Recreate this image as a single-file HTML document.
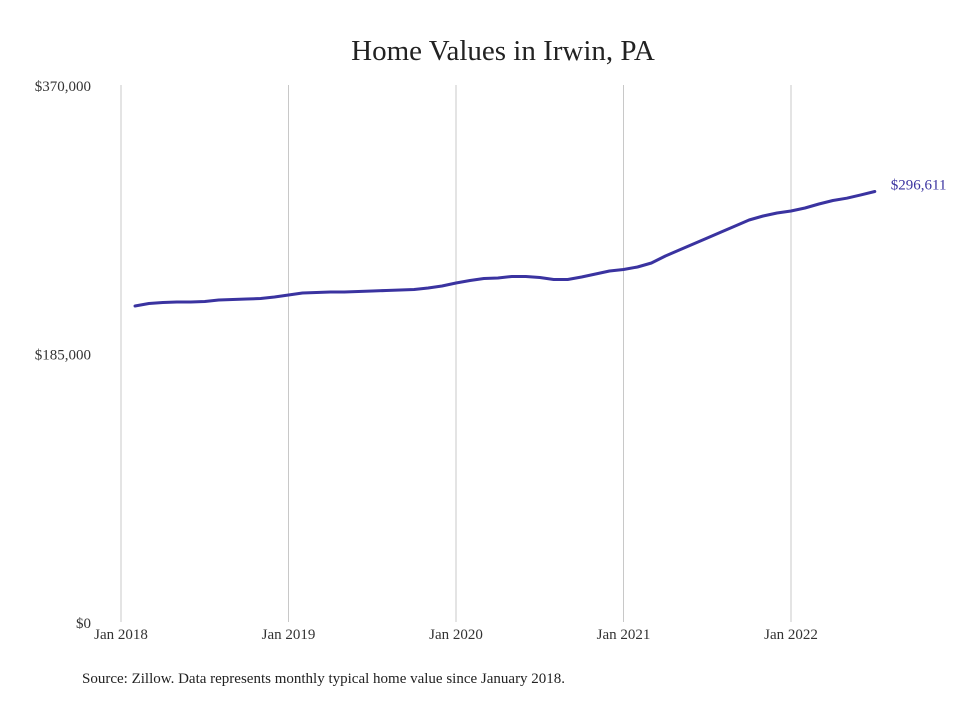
<!DOCTYPE html>
<html><head><meta charset="utf-8">
<style>
html,body{margin:0;padding:0;background:#fff;}
body{width:980px;height:699px;overflow:hidden;font-family:"Liberation Serif",serif;}
</style></head>
<body>
<svg id="chart" width="980" height="699" xmlns="http://www.w3.org/2000/svg">
<text x="503" y="60" text-anchor="middle" font-family="Liberation Serif, serif" font-size="29" fill="#222">Home Values in Irwin, PA</text>
<g id="grid"></g>
<g id="yaxis"></g>
<g id="xaxis"></g>
<g id="series"></g>
<text x="82" y="683" font-family="Liberation Serif, serif" font-size="15" fill="#222">Source: Zillow. Data represents monthly typical home value since January 2018.</text>
</svg>
<script>
const yTicks = [0, 185000, 370000];
const yTickLabels = ["$0", "$185,000", "$370,000"];
const xTickMonths = [0, 12, 24, 36, 48];
const xTickLabels = ["Jan 2018", "Jan 2019", "Jan 2020", "Jan 2021", "Jan 2022"];
const startMonth = 1;
const values = [217724,219447,220136,220480,220480,220825,221858,222203,222547,222892,223925,225303,
226681,227026,227370,227370,227715,228059,228404,228748,229093,230126,231504,233571,
235294,236672,237016,238050,238050,237361,235983,235983,237705,239772,241839,242873,
244595,247351,252174,256308,260442,264576,268710,272844,276978,279734,281801,283179,
285246,288002,290414,292000,294300,296611];
const endLabel = "$296,611";

const NS = "http://www.w3.org/2000/svg";
function x(m){ return 121 + m * (791 - 121) / 48; }
function y(v){ return 622 - v / 370000 * 537; }
function mk(tag, attrs, parent){ const e = document.createElementNS(NS, tag); for (const k in attrs) e.setAttribute(k, attrs[k]); parent.appendChild(e); return e; }

const grid = document.getElementById('grid');
const xa = document.getElementById('xaxis');
xTickMonths.forEach((m, i) => {
  const l = mk('line', {x1:x(m), x2:x(m), y1:85, y2:622, stroke:'#c8c8c8', 'stroke-width':1}, grid);
  
  
  const t = mk('text', {x:x(m), y:639, 'text-anchor':'middle', 'font-size':15, fill:'#333', 'font-family':'Liberation Serif, serif'}, xa);
  t.textContent = xTickLabels[i];
  
  
});
const ya = document.getElementById('yaxis');
yTicks.forEach((v, i) => {
  const t = mk('text', {x:91, y:y(v)+6, 'text-anchor':'end', 'font-size':15, fill:'#333', 'font-family':'Liberation Serif, serif'}, ya);
  t.textContent = yTickLabels[i];
  
  
});
const s = document.getElementById('series');
const d = values.map((v, i) => (i ? 'L' : 'M') + x(startMonth + i).toFixed(1) + ',' + y(v).toFixed(1)).join(' ');
const p = mk('path', {d:d, fill:'none', stroke:'#3a33a0', 'stroke-width':3, 'stroke-linejoin':'round', 'stroke-linecap':'round'}, s);


const lastI = values.length - 1;
const lbl = mk('text', {x:x(startMonth + lastI) + 16, y:y(values[lastI]) - 2, 'font-size':15, fill:'#3a33a0', 'font-family':'Liberation Serif, serif'}, s);
lbl.textContent = endLabel;


</script>
</body></html>
